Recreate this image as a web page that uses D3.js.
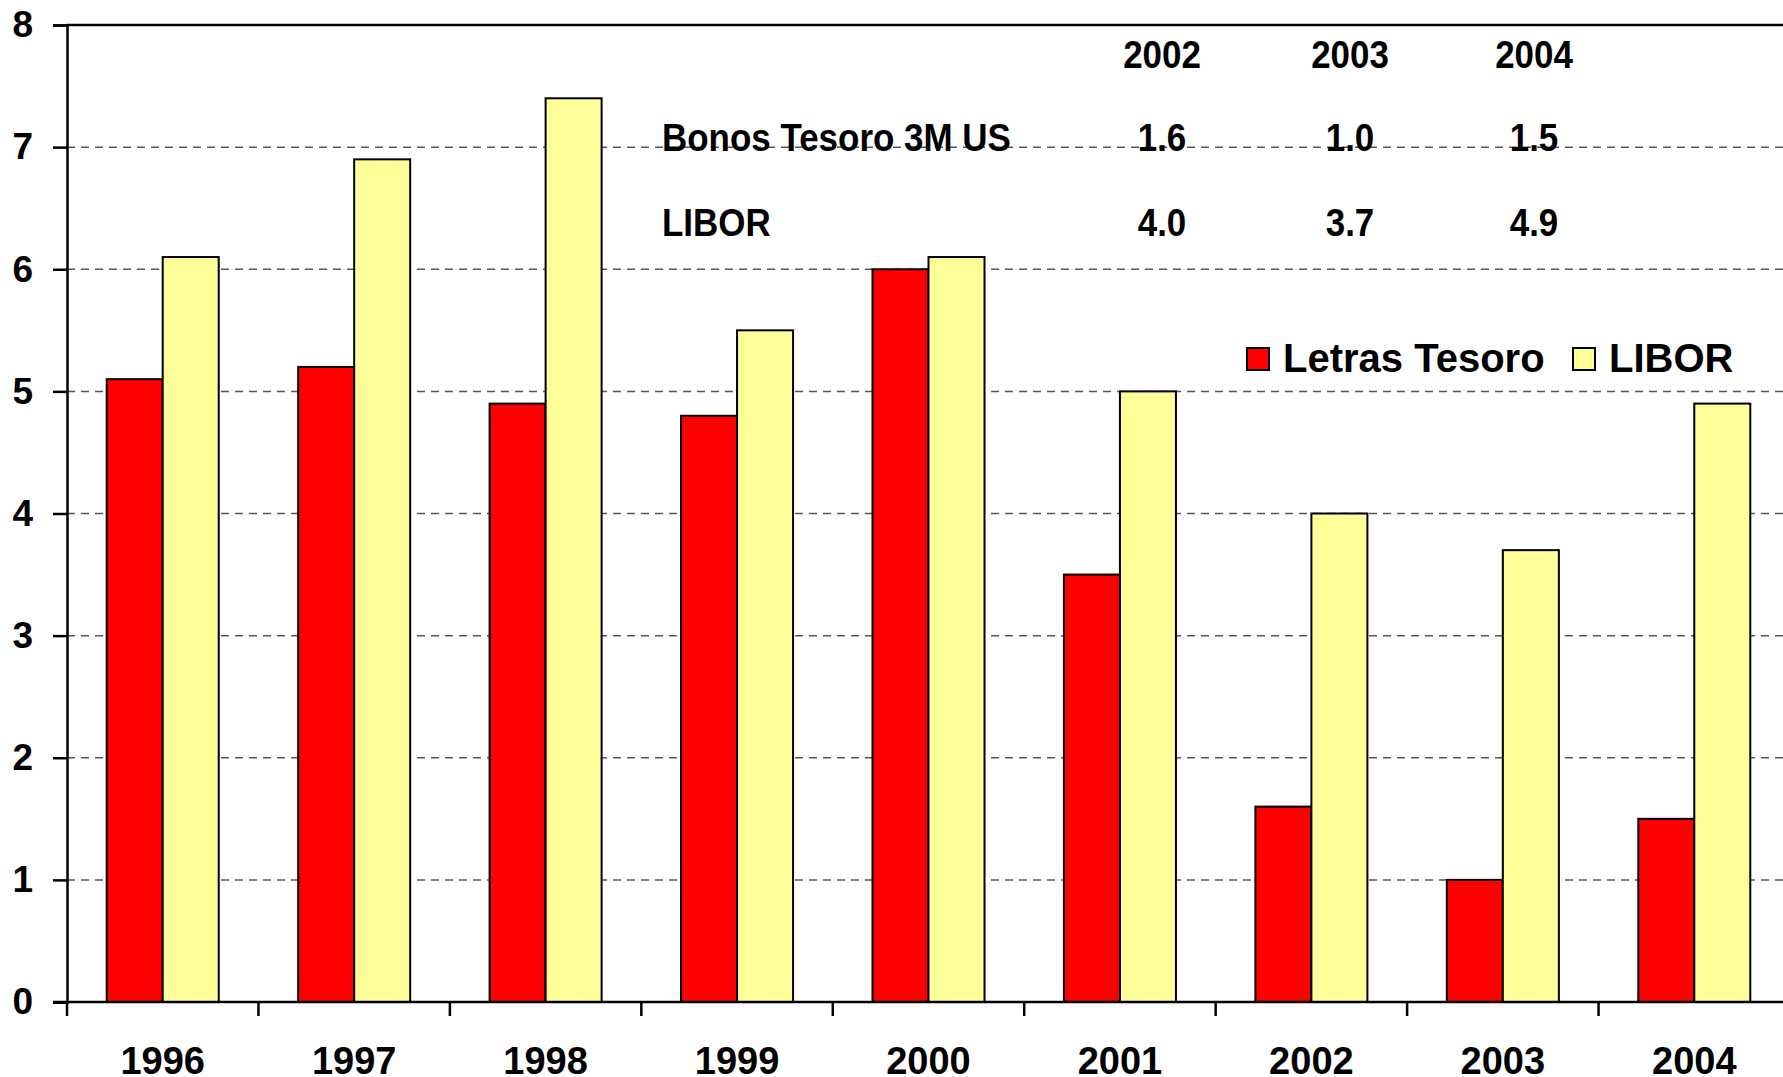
<!DOCTYPE html>
<html>
<head>
<meta charset="utf-8">
<script src="https://cdn.jsdelivr.net/npm/d3@7"></script>
<style>
  html, body { margin: 0; padding: 0; background: #fff; }
  svg { display: block; font-family: "Liberation Sans", Arial, sans-serif; font-weight: bold; }
</style>
</head>
<body>
<svg id="chart" width="1783" height="1077"></svg>
<script>
// ---- data ----
const years = ["1996","1997","1998","1999","2000","2001","2002","2003","2004"];
const seriesNames = ["Letras Tesoro", "LIBOR"];
const letras = [5.1, 5.2, 4.9, 4.8, 6.0, 3.5, 1.6, 1.0, 1.5];
const libor  = [6.1, 6.9, 7.4, 5.5, 6.1, 5.0, 4.0, 3.7, 4.9];
const yTicks = [0,1,2,3,4,5,6,7,8];

const tableYears = ["2002","2003","2004"];
const tableRowLabels = ["Bonos Tesoro 3M US", "LIBOR"];
const tableBonos = ["1.6","1.0","1.5"];
const tableLibor = ["4.0","3.7","4.9"];

const colors = ["#FF0000", "#FFFF99"];

// ---- layout ----
const svg = d3.select("#chart");
const W = 1783, H = 1077;
const mLeft = 67, mTop = 25, mBottom = 1002, mRight = 1790;

const x = d3.scaleBand().domain(years).range([mLeft, mRight]).paddingInner(0).paddingOuter(0);
const xs = d3.scaleBand().domain(seriesNames).range([0, x.bandwidth()]).paddingInner(0).paddingOuter(0.709);
const y = d3.scaleLinear().domain([0, 8]).range([mBottom, mTop]);

svg.append("rect").attr("width", W).attr("height", H).attr("fill", "#fff");

// gridlines
svg.append("g").selectAll("line").data(yTicks.filter(d => d > 0 && d < 8)).join("line")
  .attr("x1", mLeft).attr("x2", mRight)
  .attr("y1", d => y(d)).attr("y2", d => y(d))
  .attr("stroke", "#555").attr("stroke-width", 1.5).attr("stroke-dasharray", "8,6");

// top border
svg.append("line").attr("x1", mLeft).attr("x2", mRight).attr("y1", y(8)).attr("y2", y(8))
  .attr("stroke", "#000").attr("stroke-width", 2.5);

// table annotation (drawn above gridlines)
const tbl = svg.append("g").style("font-size", "38px");
const colCenters = [1162, 1350, 1534];
function condensedText(g, txt, xPos, yPos, anchor) {
  g.append("text")
    .attr("transform", `translate(${xPos},${yPos}) scale(0.92,1)`)
    .attr("text-anchor", anchor)
    .attr("fill", "#000")
    .text(txt);
}
tableYears.forEach((t, i) => condensedText(tbl, t, colCenters[i], 68, "middle"));
condensedText(tbl, tableRowLabels[0], 662, 151, "start");
condensedText(tbl, tableRowLabels[1], 662, 236, "start");
tableBonos.forEach((t, i) => condensedText(tbl, t, colCenters[i], 151, "middle"));
tableLibor.forEach((t, i) => condensedText(tbl, t, colCenters[i], 236, "middle"));

// bars
const data = years.map((yr, i) => ({ year: yr, vals: [letras[i], libor[i]] }));
const groups = svg.append("g").selectAll("g").data(data).join("g")
  .attr("transform", d => `translate(${x(d.year)},0)`);
groups.selectAll("rect").data(d => d.vals.map((v, k) => ({ s: seriesNames[k], v, k }))).join("rect")
  .attr("x", d => xs(d.s))
  .attr("width", xs.bandwidth())
  .attr("y", d => y(d.v))
  .attr("height", d => y(0) - y(d.v))
  .attr("fill", d => colors[d.k])
  .attr("stroke", "#000").attr("stroke-width", 2);

// y axis
const yAxis = d3.axisLeft(y).tickValues(yTicks).tickSize(14).tickPadding(20).tickFormat(d3.format("d"));
const yg = svg.append("g").attr("transform", `translate(${mLeft},0)`).call(yAxis);
yg.select(".domain").attr("stroke", "#000").attr("stroke-width", 2.5);
yg.selectAll(".tick line").attr("stroke", "#000").attr("stroke-width", 2.5);
yg.selectAll(".tick text").style("font-size", "37px").style("font-weight", "bold")
  .style("font-family", "'Liberation Sans', Arial, sans-serif").attr("fill", "#000");

// x axis with ticks at band boundaries
const xg = svg.append("g").attr("transform", `translate(0,${mBottom})`);
xg.append("line").attr("x1", mLeft - 14).attr("x2", mRight).attr("y1", 0).attr("y2", 0)
  .attr("stroke", "#000").attr("stroke-width", 2.5);
const boundaries = years.map(d => x(d)).concat([x(years[years.length - 1]) + x.bandwidth()]);
xg.selectAll("line.tk").data(boundaries).join("line").attr("class", "tk")
  .attr("x1", d => d).attr("x2", d => d).attr("y1", 0).attr("y2", 14)
  .attr("stroke", "#000").attr("stroke-width", 2.5);
xg.selectAll("text").data(years).join("text")
  .attr("x", d => x(d) + x.bandwidth() / 2)
  .attr("y", 72)
  .attr("text-anchor", "middle")
  .style("font-size", "38px")
  .attr("fill", "#000")
  .text(d => d);

// legend
const legend = svg.append("g").style("font-size", "40px");
const legendX = [1247, 1573];
seriesNames.forEach((name, i) => {
  legend.append("rect").attr("x", legendX[i]).attr("y", 348).attr("width", 22).attr("height", 22)
    .attr("fill", colors[i]).attr("stroke", "#000").attr("stroke-width", 2);
  legend.append("text").attr("x", legendX[i] + 36).attr("y", 372).attr("fill", "#000").text(name);
});
</script>
</body>
</html>
